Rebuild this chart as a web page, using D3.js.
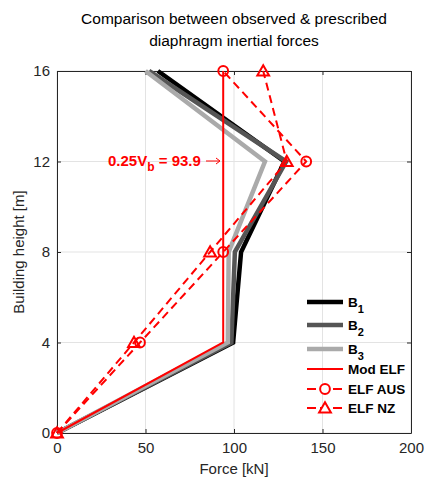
<!DOCTYPE html>
<html><head><meta charset="utf-8">
<script src="https://cdn.jsdelivr.net/npm/d3@7"></script>
<style>body{margin:0;background:#fff}text{font-family:Arial,"Liberation Sans",Helvetica,sans-serif}</style>
</head><body><svg id="c" width="425" height="480"></svg>
<script>
const heights = [0, 4, 8, 12, 16];
const B1 = [0, 99.5, 104, 128.5, 57];
const B2 = [0, 98.5, 100.5, 129.5, 52];
const B3 = [0, 96.5, 97, 117.5, 50];
const modELF = [0, 93.9, 93.9, 93.9, 93.9];
const elfAUS = [0, 46.9, 93.9, 140.8, 93.9];
const elfNZ = [0, 43.5, 86.5, 129.8, 116.5];
const xTicks = [0, 50, 100, 150, 200];
const yTicks = [0, 4, 8, 12, 16];

const svg = d3.select("#c");
const L = 57, R = 411, T = 71, Bm = 433;
const x = d3.scaleLinear().domain([0, 200]).range([L, R]);
const y = d3.scaleLinear().domain([0, 16]).range([Bm, T]);

// grid
svg.append("g").selectAll("line").data(xTicks).join("line")
  .attr("x1", d => x(d)).attr("x2", d => x(d)).attr("y1", T).attr("y2", Bm)
  .attr("stroke", "#e3e3e3").attr("stroke-width", 1);
svg.append("g").selectAll("line").data(yTicks).join("line")
  .attr("x1", L).attr("x2", R).attr("y1", d => y(d)).attr("y2", d => y(d))
  .attr("stroke", "#e3e3e3").attr("stroke-width", 1);

// axes
const ax = d3.axisBottom(x).tickValues(xTicks).tickSizeInner(-4).tickSizeOuter(0).tickPadding(9);
const ay = d3.axisLeft(y).tickValues(yTicks).tickSizeInner(-4).tickSizeOuter(0).tickPadding(7);
const axT = d3.axisTop(x).tickValues(xTicks).tickSizeInner(-4).tickSizeOuter(0).tickFormat("");
const ayR = d3.axisRight(y).tickValues(yTicks).tickSizeInner(-4).tickSizeOuter(0).tickFormat("");
function style(g){ g.selectAll("path,line").attr("stroke","#262626"); g.selectAll("text").attr("fill","#262626").style("font-size","15px").style("font-family","Arial, 'Liberation Sans', sans-serif"); }
svg.append("g").attr("transform",`translate(0,${Bm})`).call(ax).call(style);
svg.append("g").attr("transform",`translate(${L},0)`).call(ay).call(style);
svg.append("g").attr("transform",`translate(0,${T})`).call(axT).call(style);
svg.append("g").attr("transform",`translate(${R},0)`).call(ayR).call(style);

const line = d3.line().x(d => x(d[0])).y(d => y(d[1]));
const pts = arr => arr.map((v,i) => [v, heights[i]]);

const series = [
  {name:"B1", data:B1, color:"#000", w:4.5, dash:null, marker:null},
  {name:"B2", data:B2, color:"#555", w:4.5, dash:null, marker:null},
  {name:"B3", data:B3, color:"#aaa", w:4.5, dash:null, marker:null},
  {name:"Mod ELF", data:modELF, color:"#ff0000", w:2, dash:null, marker:null},
  {name:"ELF AUS", data:elfAUS, color:"#ff0000", w:2, dash:"8,5", marker:"circle"},
  {name:"ELF NZ", data:elfNZ, color:"#ff0000", w:2, dash:"8,5", marker:"triangle"}
];
const tri = d3.symbol().type(d3.symbolTriangle).size(60);
const circ = d3.symbol().type(d3.symbolCircle).size(75);
series.forEach(s => {
  svg.append("path").datum(pts(s.data)).attr("d", line).attr("fill","none")
    .attr("stroke", s.color).attr("stroke-width", s.w).attr("stroke-dasharray", s.dash)
    .attr("stroke-linejoin","miter");
  if (s.marker) {
    svg.append("g").selectAll("path").data(pts(s.data)).join("path")
      .attr("transform", d => `translate(${x(d[0])},${y(d[1]) + (s.marker==="triangle"?1:0)})`)
      .attr("d", s.marker==="triangle" ? tri : circ)
      .attr("fill","none").attr("stroke", s.color).attr("stroke-width", 2);
  }
});

// annotation
const ann = svg.append("text").attr("x", 108).attr("y", 166).attr("fill","#ff0000")
  .style("font-size","15px").style("font-weight","bold");
ann.append("tspan").text("0.25V");
ann.append("tspan").attr("dy", 5).style("font-size","12px").text("b");
ann.append("tspan").attr("dy", -5).text(" = 93.9");
svg.append("line").attr("x1", 206).attr("x2", 220).attr("y1", 161).attr("y2", 161)
  .attr("stroke","#ff0000").attr("stroke-width",1);
svg.append("path").attr("d","M216,158 L220,161 L216,164").attr("fill","none").attr("stroke","#ff0000").attr("stroke-width",1);

// legend
const legY = [302, 325, 349, 369, 389, 408];
series.forEach((s,i) => {
  const g = svg.append("g").attr("transform", `translate(0,${legY[i]})`);
  g.append("line").attr("x1",307).attr("x2",343).attr("y1",0).attr("y2",0)
    .attr("stroke", s.color).attr("stroke-width", s.w).attr("stroke-dasharray", s.marker ? "9,4" : null);
  if (s.marker) g.append("path").attr("transform",`translate(325,${s.marker==="triangle"?1:0})`)
    .attr("d", s.marker==="triangle"?tri:circ).attr("fill","#fff").attr("stroke",s.color).attr("stroke-width",2);
  const t = g.append("text").attr("x",348).attr("y",5).attr("fill","#000")
    .style("font-size","13.5px").style("font-weight","bold");
  if (s.name[0]==="B" && s.name.length===2) {
    t.append("tspan").text("B");
    t.append("tspan").attr("dy",6).style("font-size","11px").text(s.name[1]);
  } else t.text(s.name);
});

// titles
svg.append("text").attr("x",234).attr("y",24).attr("text-anchor","middle").style("font-size","15.5px").attr("fill","#000").text("Comparison between observed & prescribed");
svg.append("text").attr("x",234).attr("y",46).attr("text-anchor","middle").style("font-size","15.5px").attr("fill","#000").text("diaphragm inertial forces");
svg.append("text").attr("x",234).attr("y",474).attr("text-anchor","middle").style("font-size","15px").attr("fill","#262626").text("Force [kN]");
svg.append("text").attr("transform",`translate(24,252) rotate(-90)`).attr("text-anchor","middle").style("font-size","15px").attr("fill","#262626").text("Building height [m]");
</script></body></html>
